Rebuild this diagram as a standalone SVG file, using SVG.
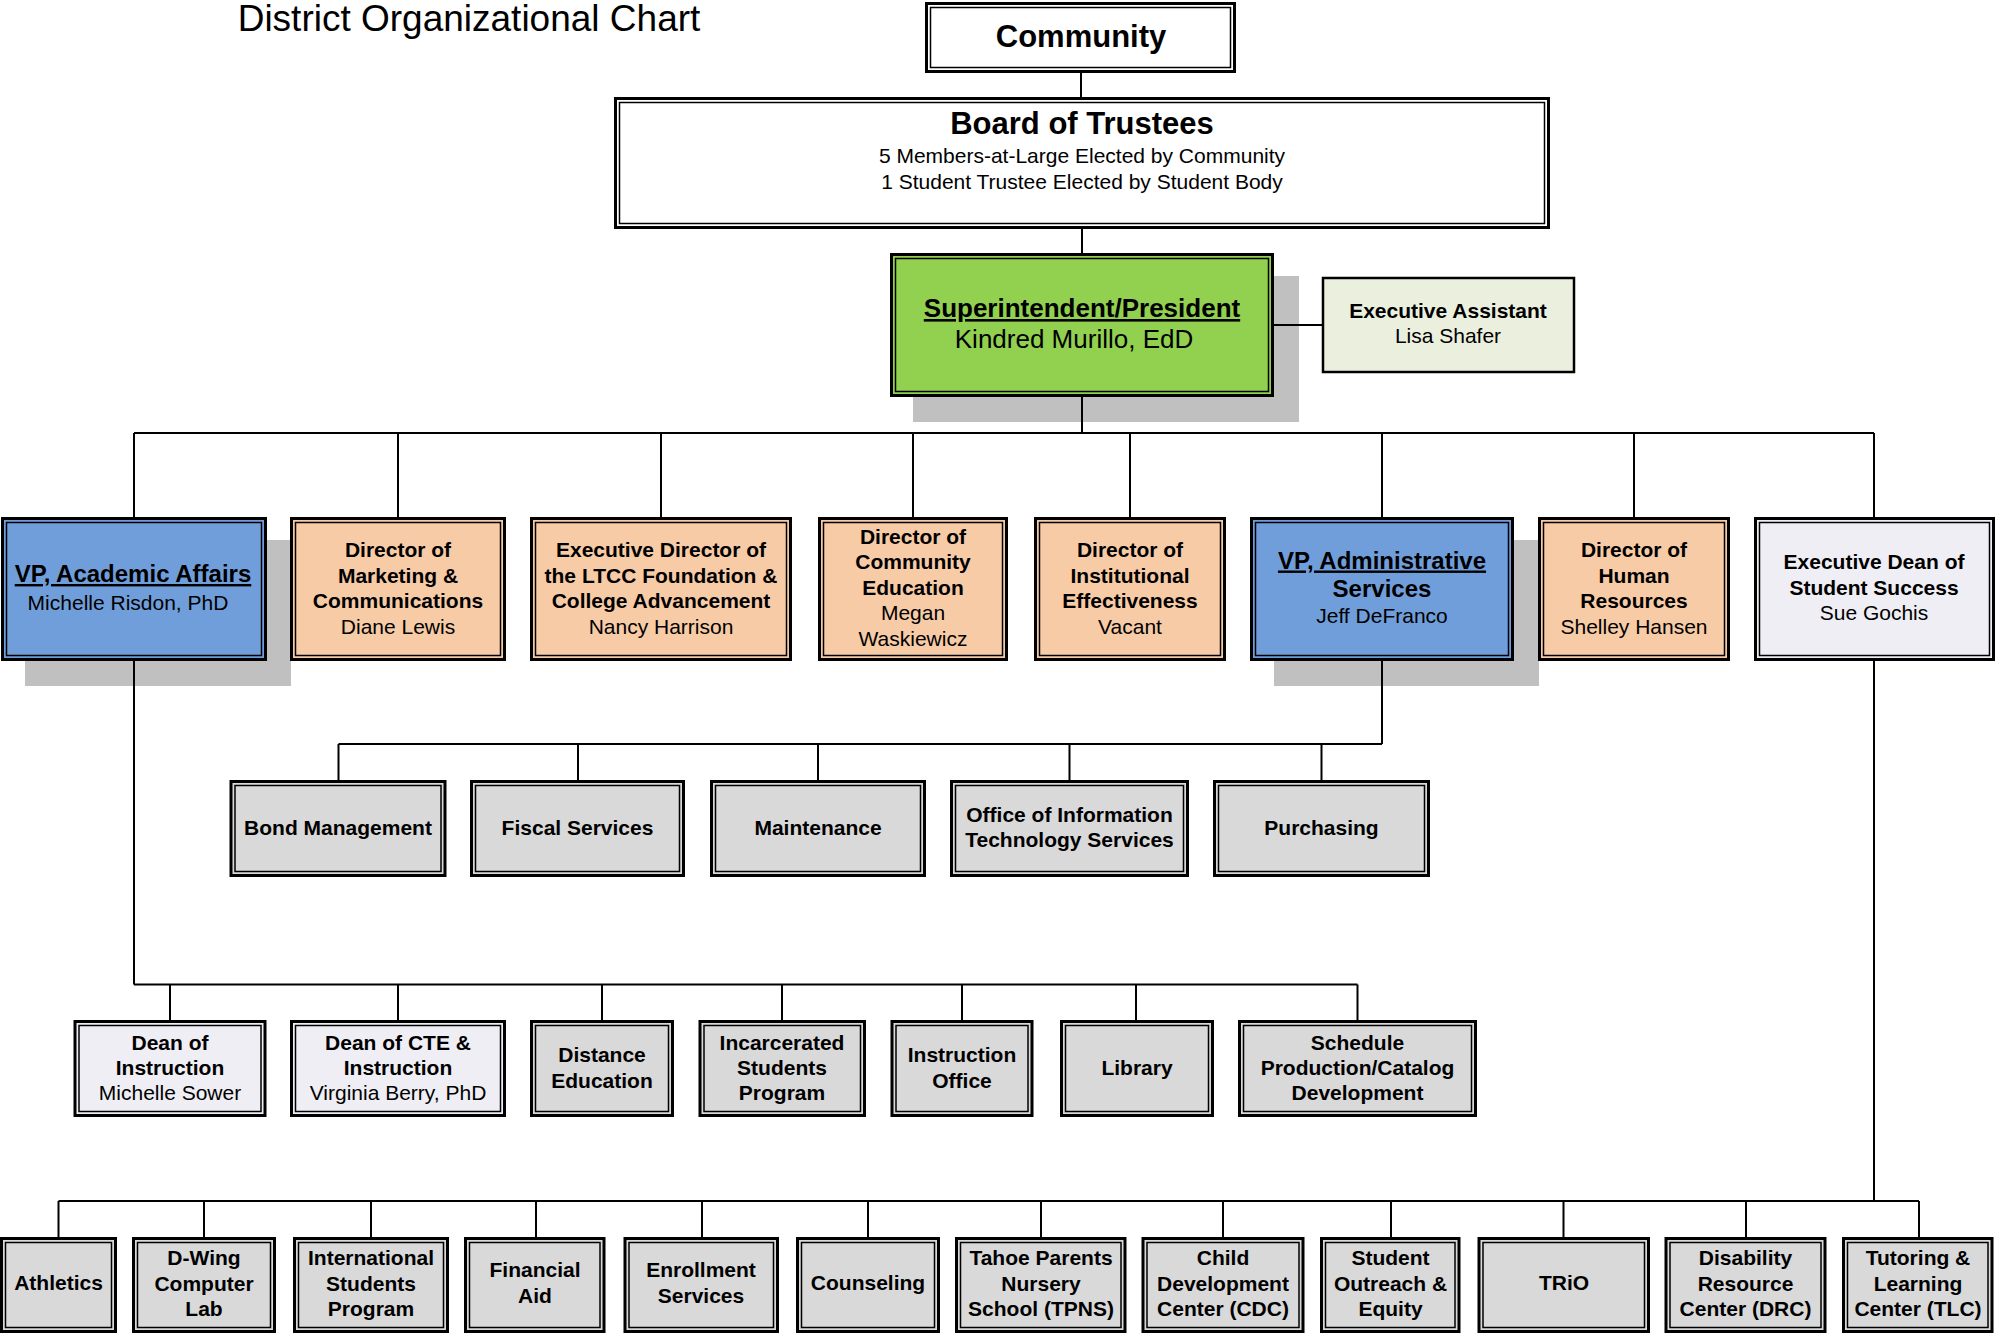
<svg xmlns="http://www.w3.org/2000/svg" width="1997" height="1336" viewBox="0 0 1997 1336">
<style>
.t{font-family:"Liberation Sans",Arial,sans-serif;text-anchor:middle;fill:#000;font-size:21px}
.b{font-weight:bold}
.u{text-decoration:underline}
.box{stroke:#000;stroke-width:3}
.in{fill:none;stroke:#000;stroke-width:1.5}
.white{fill:#ffffff}
.green{fill:#92d050}
.blue{fill:#6f9edb}
.peach{fill:#f8cba7}
.lav{fill:#efeef4}
.gray{fill:#d9d9d9}
.ea{fill:#ebf0de;stroke:#000;stroke-width:2.5}
.shadow{fill:#c0c0c0}
.con{stroke:#000;stroke-width:2;fill:none}
</style>
<rect width="1997" height="1336" fill="#ffffff"/>
<text x="469" y="31" class="t" style="font-size:37px">District Organizational Chart</text>

<g id="shadows">
<rect class="shadow" x="913" y="276" width="386" height="146"/>
<rect class="shadow" x="25" y="540" width="266" height="146"/>
<rect class="shadow" x="1274" y="540" width="265" height="146"/>
</g>

<g id="connectors" class="con">
<path d="M1081 73V97M1082 229V253M1274 325H1322M1082 397V433"/>
<path d="M134 433H1874M134 433V517M398 433V517M661 433V517M913 433V517M1130 433V517M1382 433V517M1634 433V517M1874 433V517"/>
<path d="M1382 661V744M338.5 744H1382M338.5 744V780M578 744V780M818 744V780M1069.5 744V780M1321.5 744V780"/>
<path d="M134 661V984.5M134 984.5H1357.5M170 984.5V1020M398 984.5V1020M602 984.5V1020M782 984.5V1020M962 984.5V1020M1136 984.5V1020M1357.5 984.5V1020"/>
<path d="M1874 661V1201M58.5 1201H1919M58.5 1201V1237M204 1201V1237M371 1201V1237M536 1201V1237M702 1201V1237M868 1201V1237M1041 1201V1237M1223 1201V1237M1391 1201V1237M1563.5 1201V1237M1746 1201V1237M1919 1201V1237"/>
</g>

<g id="community">
<rect class="box white" x="926.5" y="3.5" width="308" height="68"/>
<rect class="in" x="930.5" y="7.5" width="300" height="60"/>
<text class="t b" x="1081" y="47" style="font-size:31px">Community</text>
</g>

<g id="board">
<rect class="box white" x="615.5" y="98.5" width="933" height="129"/>
<rect class="in" x="619.5" y="102.5" width="925" height="121"/>
<text class="t b" x="1082" y="134" style="font-size:31px">Board of Trustees</text>
<text class="t" x="1082" y="163">5 Members-at-Large Elected by Community</text>
<text class="t" x="1082" y="188.5">1 Student Trustee Elected by Student Body</text>
</g>

<g id="superintendent">
<rect class="box green" x="891.5" y="254.5" width="381" height="141"/>
<rect class="in" x="895.5" y="258.5" width="373" height="133"/>
<text class="t b u" x="1082" y="317" style="font-size:26px">Superintendent/President</text>
<text class="t" x="1074" y="348" style="font-size:26px">Kindred Murillo, EdD</text>
</g>

<g id="exec-assistant">
<rect class="ea" x="1323" y="278" width="251" height="94"/>
<text class="t b" x="1448" y="318">Executive Assistant</text>
<text class="t" x="1448" y="343">Lisa Shafer</text>
</g>

<g id="vp-academic">
<rect class="box blue" x="2.5" y="518.5" width="263" height="141"/>
<rect class="in" x="6.5" y="522.5" width="255" height="133"/>
<text class="t b u" x="133" y="582" style="font-size:24px">VP, Academic Affairs</text>
<text class="t" x="128" y="610">Michelle Risdon, PhD</text>
</g>

<g id="dir-marketing">
<rect class="box peach" x="291.5" y="518.5" width="213" height="141"/>
<rect class="in" x="295.5" y="522.5" width="205" height="133"/>
<text class="t b" x="398" y="557">Director of</text>
<text class="t b" x="398" y="582.5">Marketing &amp;</text>
<text class="t b" x="398" y="608">Communications</text>
<text class="t" x="398" y="633.5">Diane Lewis</text>
</g>

<g id="exec-dir-ltcc">
<rect class="box peach" x="531.5" y="518.5" width="259" height="141"/>
<rect class="in" x="535.5" y="522.5" width="251" height="133"/>
<text class="t b" x="661" y="557">Executive Director of</text>
<text class="t b" x="661" y="582.5">the LTCC Foundation &amp;</text>
<text class="t b" x="661" y="608">College Advancement</text>
<text class="t" x="661" y="633.5">Nancy Harrison</text>
</g>

<g id="dir-community-ed">
<rect class="box peach" x="819.5" y="518.5" width="187" height="141"/>
<rect class="in" x="823.5" y="522.5" width="179" height="133"/>
<text class="t b" x="913" y="543.5">Director of</text>
<text class="t b" x="913" y="569">Community</text>
<text class="t b" x="913" y="594.5">Education</text>
<text class="t" x="913" y="620">Megan</text>
<text class="t" x="913" y="645.5">Waskiewicz</text>
</g>

<g id="dir-institutional">
<rect class="box peach" x="1035.5" y="518.5" width="189" height="141"/>
<rect class="in" x="1039.5" y="522.5" width="181" height="133"/>
<text class="t b" x="1130" y="557">Director of</text>
<text class="t b" x="1130" y="582.5">Institutional</text>
<text class="t b" x="1130" y="608">Effectiveness</text>
<text class="t" x="1130" y="633.5">Vacant</text>
</g>

<g id="vp-administrative">
<rect class="box blue" x="1251.5" y="518.5" width="261" height="141"/>
<rect class="in" x="1255.5" y="522.5" width="253" height="133"/>
<text class="t b u" x="1382" y="568.5" style="font-size:24px">VP, Administrative</text>
<text class="t b" x="1382" y="597" style="font-size:24px">Services</text>
<text class="t" x="1382" y="623">Jeff DeFranco</text>
</g>

<g id="dir-hr">
<rect class="box peach" x="1539.5" y="518.5" width="189" height="141"/>
<rect class="in" x="1543.5" y="522.5" width="181" height="133"/>
<text class="t b" x="1634" y="557">Director of</text>
<text class="t b" x="1634" y="582.5">Human</text>
<text class="t b" x="1634" y="608">Resources</text>
<text class="t" x="1634" y="633.5">Shelley Hansen</text>
</g>

<g id="exec-dean-student-success">
<rect class="box lav" x="1755.5" y="518.5" width="238" height="141"/>
<rect class="in" x="1759.5" y="522.5" width="230" height="133"/>
<text class="t b" x="1874" y="569">Executive Dean of</text>
<text class="t b" x="1874" y="594.5">Student Success</text>
<text class="t" x="1874" y="620">Sue Gochis</text>
</g>

<g id="bond-management">
<rect class="box gray" x="231" y="781.5" width="214" height="94"/>
<rect class="in" x="235" y="785.5" width="206" height="86"/>
<text class="t b" x="338" y="835">Bond Management</text>
</g>
<g id="fiscal-services">
<rect class="box gray" x="471.5" y="781.5" width="212" height="94"/>
<rect class="in" x="475.5" y="785.5" width="204" height="86"/>
<text class="t b" x="577.5" y="835">Fiscal Services</text>
</g>
<g id="maintenance">
<rect class="box gray" x="711.5" y="781.5" width="213" height="94"/>
<rect class="in" x="715.5" y="785.5" width="205" height="86"/>
<text class="t b" x="818" y="835">Maintenance</text>
</g>
<g id="oits">
<rect class="box gray" x="951.5" y="781.5" width="236" height="94"/>
<rect class="in" x="955.5" y="785.5" width="228" height="86"/>
<text class="t b" x="1069.5" y="822">Office of Information</text>
<text class="t b" x="1069.5" y="847">Technology Services</text>
</g>
<g id="purchasing">
<rect class="box gray" x="1214.5" y="781.5" width="214" height="94"/>
<rect class="in" x="1218.5" y="785.5" width="206" height="86"/>
<text class="t b" x="1321.5" y="835">Purchasing</text>
</g>

<g id="dean-instruction">
<rect class="box lav" x="75" y="1021.5" width="190" height="94"/>
<rect class="in" x="79" y="1025.5" width="182" height="86"/>
<text class="t b" x="170" y="1050">Dean of</text>
<text class="t b" x="170" y="1075">Instruction</text>
<text class="t" x="170" y="1100">Michelle Sower</text>
</g>
<g id="dean-cte">
<rect class="box lav" x="291.5" y="1021.5" width="213" height="94"/>
<rect class="in" x="295.5" y="1025.5" width="205" height="86"/>
<text class="t b" x="398" y="1050">Dean of CTE &amp;</text>
<text class="t b" x="398" y="1075">Instruction</text>
<text class="t" x="398" y="1100">Virginia Berry, PhD</text>
</g>
<g id="distance-education">
<rect class="box gray" x="531.5" y="1021.5" width="141" height="94"/>
<rect class="in" x="535.5" y="1025.5" width="133" height="86"/>
<text class="t b" x="602" y="1062">Distance</text>
<text class="t b" x="602" y="1088">Education</text>
</g>
<g id="incarcerated-students">
<rect class="box gray" x="700" y="1021.5" width="164.5" height="94"/>
<rect class="in" x="704" y="1025.5" width="156.5" height="86"/>
<text class="t b" x="782" y="1050">Incarcerated</text>
<text class="t b" x="782" y="1075">Students</text>
<text class="t b" x="782" y="1100">Program</text>
</g>
<g id="instruction-office">
<rect class="box gray" x="892" y="1021.5" width="140" height="94"/>
<rect class="in" x="896" y="1025.5" width="132" height="86"/>
<text class="t b" x="962" y="1062">Instruction</text>
<text class="t b" x="962" y="1088">Office</text>
</g>
<g id="library">
<rect class="box gray" x="1061.5" y="1021.5" width="151" height="94"/>
<rect class="in" x="1065.5" y="1025.5" width="143" height="86"/>
<text class="t b" x="1137" y="1075">Library</text>
</g>
<g id="schedule-production">
<rect class="box gray" x="1239.5" y="1021.5" width="236" height="94"/>
<rect class="in" x="1243.5" y="1025.5" width="228" height="86"/>
<text class="t b" x="1357.5" y="1050">Schedule</text>
<text class="t b" x="1357.5" y="1075">Production/Catalog</text>
<text class="t b" x="1357.5" y="1100">Development</text>
</g>

<g id="athletics">
<rect class="box gray" x="1.5" y="1238.5" width="114" height="93"/>
<rect class="in" x="5.5" y="1242.5" width="106" height="85"/>
<text class="t b" x="58.5" y="1290">Athletics</text>
</g>
<g id="d-wing">
<rect class="box gray" x="133.5" y="1238.5" width="141" height="93"/>
<rect class="in" x="137.5" y="1242.5" width="133" height="85"/>
<text class="t b" x="204" y="1265">D-Wing</text>
<text class="t b" x="204" y="1290.5">Computer</text>
<text class="t b" x="204" y="1316">Lab</text>
</g>
<g id="international-students">
<rect class="box gray" x="294.5" y="1238.5" width="153" height="93"/>
<rect class="in" x="298.5" y="1242.5" width="145" height="85"/>
<text class="t b" x="371" y="1265">International</text>
<text class="t b" x="371" y="1290.5">Students</text>
<text class="t b" x="371" y="1316">Program</text>
</g>
<g id="financial-aid">
<rect class="box gray" x="465.5" y="1238.5" width="138.5" height="93"/>
<rect class="in" x="469.5" y="1242.5" width="130.5" height="85"/>
<text class="t b" x="535" y="1277">Financial</text>
<text class="t b" x="535" y="1302.5">Aid</text>
</g>
<g id="enrollment-services">
<rect class="box gray" x="625" y="1238.5" width="152.5" height="93"/>
<rect class="in" x="629" y="1242.5" width="144.5" height="85"/>
<text class="t b" x="701" y="1277">Enrollment</text>
<text class="t b" x="701" y="1302.5">Services</text>
</g>
<g id="counseling">
<rect class="box gray" x="797.5" y="1238.5" width="141" height="93"/>
<rect class="in" x="801.5" y="1242.5" width="133" height="85"/>
<text class="t b" x="868" y="1290">Counseling</text>
</g>
<g id="tpns">
<rect class="box gray" x="956.5" y="1238.5" width="168.5" height="93"/>
<rect class="in" x="960.5" y="1242.5" width="160.5" height="85"/>
<text class="t b" x="1041" y="1265">Tahoe Parents</text>
<text class="t b" x="1041" y="1290.5">Nursery</text>
<text class="t b" x="1041" y="1316">School (TPNS)</text>
</g>
<g id="cdc">
<rect class="box gray" x="1143" y="1238.5" width="160" height="93"/>
<rect class="in" x="1147" y="1242.5" width="152" height="85"/>
<text class="t b" x="1223" y="1265">Child</text>
<text class="t b" x="1223" y="1290.5">Development</text>
<text class="t b" x="1223" y="1316">Center (CDC)</text>
</g>
<g id="student-outreach">
<rect class="box gray" x="1321.5" y="1238.5" width="137.5" height="93"/>
<rect class="in" x="1325.5" y="1242.5" width="129.5" height="85"/>
<text class="t b" x="1390.5" y="1265">Student</text>
<text class="t b" x="1390.5" y="1290.5">Outreach &amp;</text>
<text class="t b" x="1390.5" y="1316">Equity</text>
</g>
<g id="trio">
<rect class="box gray" x="1479" y="1238.5" width="169.5" height="93"/>
<rect class="in" x="1483" y="1242.5" width="161.5" height="85"/>
<text class="t b" x="1564" y="1290">TRiO</text>
</g>
<g id="drc">
<rect class="box gray" x="1666" y="1238.5" width="159" height="93"/>
<rect class="in" x="1670" y="1242.5" width="151" height="85"/>
<text class="t b" x="1745.5" y="1265">Disability</text>
<text class="t b" x="1745.5" y="1290.5">Resource</text>
<text class="t b" x="1745.5" y="1316">Center (DRC)</text>
</g>
<g id="tlc">
<rect class="box gray" x="1843.5" y="1238.5" width="148.5" height="93"/>
<rect class="in" x="1847.5" y="1242.5" width="140.5" height="85"/>
<text class="t b" x="1918" y="1265">Tutoring &amp;</text>
<text class="t b" x="1918" y="1290.5">Learning</text>
<text class="t b" x="1918" y="1316">Center (TLC)</text>
</g>
</svg>
